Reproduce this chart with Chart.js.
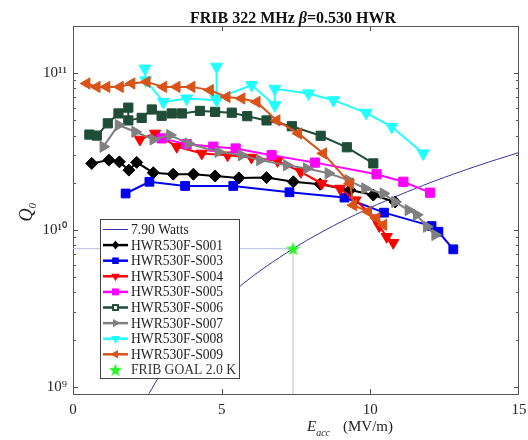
<!DOCTYPE html>
<html><head><meta charset="utf-8">
<script src="https://cdn.jsdelivr.net/npm/chart.js@4.4.1/dist/chart.umd.min.js"></script>
<style>html,body{margin:0;padding:0;background:#fff;overflow:hidden}#wrap{width:528px;height:440px;position:relative}</style>
</head><body><div id="wrap"><canvas id="c" width="528" height="440"></canvas></div>
<script>
// ---------- data ----------
const xTicks = [0, 5, 10, 15];
const yDecades = [1e9, 1e10, 1e11];
const yDecadeLabels = ['10\u2079', '10\u00b9\u2070', '10\u00b9\u00b9'];
const yMantissas = [1, 2, 3, 4, 5, 6, 7, 8, 9];

const seriesNames = ['HWR530F-S001','HWR530F-S003','HWR530F-S004','HWR530F-S005','HWR530F-S006','HWR530F-S007','HWR530F-S008','HWR530F-S009'];
const wattsLabel = '7.90 Watts';
const goalLabel = 'FRIB GOAL 2.0 K';

const s001E = [0.63,1.21,1.56,1.88,2.14,2.70,3.37,4.05,4.78,5.58,6.51,7.41,8.31,9.32,10.1,10.83];
const s001Q = [2.66e10,2.79e10,2.72e10,2.41e10,2.70e10,2.32e10,2.27e10,2.27e10,2.21e10,2.15e10,2.16e10,2.03e10,1.96e10,1.80e10,1.67e10,1.51e10];
const s003E = [1.77,2.57,3.77,5.39,7.28,9.13,10.46,12.06,12.29,12.79];
const s003Q = [1.71e10,2.03e10,1.91e10,1.91e10,1.74e10,1.61e10,1.29e10,1.06e10,9.75e9,7.53e9];
const s004E = [2.25,2.76,3.49,4.33,5.2,6.0,6.88,7.66,8.36,8.98,9.5,10.16,10.3,10.55,10.77];
const s004Q = [3.78e10,4.13e10,3.40e10,3.08e10,3.0e10,2.9e10,2.76e10,2.35e10,1.98e10,1.84e10,1.55e10,1.19e10,1.06e10,9.06e9,8.3e9];
const s005E = [2.98,3.82,4.72,5.47,6.68,8.14,10.21,11.11,12.01];
const s005Q = [3.84e10,3.53e10,3.40e10,3.31e10,3.0e10,2.69e10,2.27e10,2.03e10,1.73e10];
const s006E = [0.55,0.80,1.17,1.53,1.86,1.86,2.31,2.65,2.98,3.32,3.66,4.27,4.78,5.34,5.86,6.51,7.36,8.33,9.21,10.1];
const s006Q = [4.06e10,4.0e10,4.79e10,5.54e10,6.03e10,5.0e10,5.19e10,5.87e10,5.35e10,5.54e10,5.54e10,5.75e10,5.67e10,5.6e10,5.32e10,5.0e10,4.59e10,3.99e10,3.37e10,2.66e10];
const s007E = [1.02,1.53,2.09,2.70,3.26,3.88,4.89,5.67,6.29,7.19,7.86,8.59,9.26,9.82,10.44,10.83,11.28,11.56,11.9,12.18];
const s007Q = [3.40e10,4.67e10,4.23e10,3.78e10,4.03e10,3.56e10,3.15e10,3.0e10,2.79e10,2.59e10,2.47e10,2.30e10,2.08e10,1.84e10,1.71e10,1.51e10,1.34e10,1.25e10,1.05e10,9.3e9];
const s008E = [2.42,2.45,3.04,3.82,4.83,4.83,4.83,6.01,6.79,6.79,7.92,8.76,9.86,10.72,11.78];
const s008Q = [1.07e11,9.0e10,6.56e10,6.9e10,6.73e10,1.1e11,6.9e10,8.4e10,6.25e10,7.95e10,7.43e10,6.73e10,5.59e10,4.55e10,3.08e10];
const s009E = [0.46,0.80,1.13,1.58,1.97,2.48,3.04,3.49,3.99,4.61,5.17,5.67,6.18,6.85,7.58,8.42,9.32,9.43,9.93,10.21,10.44];
const s009Q = [8.6e10,8.18e10,8.18e10,8.18e10,8.6e10,8.8e10,8.18e10,8.18e10,8.18e10,7.8e10,7.06e10,6.9e10,6.56e10,5.0e10,4.13e10,3.08e10,1.98e10,1.44e10,1.31e10,1.19e10,1.08e10];

const wattsE = [2.55,3,3.5,4,4.5,5,5.5,6,6.5,7.4,8,9,10,11,12,13,14,15];
const wattsQ = [9.03e8,1.25e9,1.70e9,2.22e9,2.81e9,3.47e9,4.20e9,5.0e9,5.86e9,7.6e9,8.88e9,1.124e10,1.388e10,1.679e10,2.0e10,2.345e10,2.72e10,3.12e10];

const goalE = [7.4];
const goalQ = [7.6e9];
const yMin = 9e8, yMax = 2e11;

// ---------- styles ----------
const seriesE = [s001E,s003E,s004E,s005E,s006E,s007E,s008E,s009E];
const seriesQ = [s001Q,s003Q,s004Q,s005Q,s006Q,s007Q,s008Q,s009Q];
const styles = [
  {color:'#000000', shape:'rectRot', rot:0, r:6},
  {color:'#0000ee', shape:'rect', rot:0, r:6.2},
  {color:'#ff0000', shape:'triangle', rot:180, r:6.5},
  {color:'#ff00ff', shape:'rect', rot:0, r:6.5},
  {color:'#1f4d37', shape:'rect', rot:0, r:6.5},
  {color:'#808080', shape:'triangle', rot:90, r:6.5},
  {color:'#22ffff', shape:'triangle', rot:180, r:7},
  {color:'#d95319', shape:'triangle', rot:270, r:6.5}
];
const wattsColor = '#3535a5';
const goalColor = '#2cf52c';
const serif = '"Liberation Serif","Times New Roman",serif';

function starCanvas(R) {
  const c = document.createElement('canvas');
  const s = Math.ceil(R*2+2); c.width = s; c.height = s;
  const g = c.getContext('2d');
  g.translate(s/2, s/2+0.5);
  g.beginPath();
  for (let i = 0; i < 10; i++) {
    const rr = i % 2 ? R*0.42 : R;
    const a = -Math.PI/2 + i*Math.PI/5;
    g.lineTo(Math.cos(a)*rr, Math.sin(a)*rr);
  }
  g.closePath(); g.fillStyle = goalColor; g.fill();
  return c;
}
const starBig = starCanvas(7.5);

function drawMarker(ctx, st, x, y, r) {
  ctx.save(); ctx.translate(x, y); ctx.rotate(st.rot*Math.PI/180);
  ctx.beginPath();
  if (st.shape === 'rect') { const h = r*0.707; ctx.rect(-h,-h,2*h,2*h); }
  else if (st.shape === 'rectRot') { ctx.moveTo(0,-r); ctx.lineTo(r*0.8,0); ctx.lineTo(0,r); ctx.lineTo(-r*0.8,0); ctx.closePath(); }
  else { for (let i=0;i<3;i++){ const a=i*2*Math.PI/3; ctx.lineTo(Math.sin(a)*r, -Math.cos(a)*r);} ctx.closePath(); }
  ctx.fillStyle = st.color; ctx.fill();
  ctx.restore();
}

// ---------- datasets ----------
const datasets = [];
seriesE.forEach((E, k) => {
  const st = styles[k];
  datasets.push({
    label: seriesNames[k],
    data: E.map((e, i) => ({x: e, y: seriesQ[k][i]})),
    showLine: true, borderColor: st.color, backgroundColor: st.color, borderWidth: 2,
    pointStyle: st.shape, pointRotation: st.rot, pointRadius: st.r,
    pointBorderWidth: 1, pointBorderColor: st.color, pointBackgroundColor: st.color,
    order: 20 - k
  });
});
datasets.push({
  label: wattsLabel, data: wattsE.map((e,i)=>({x:e,y:wattsQ[i]})),
  showLine: true, borderColor: wattsColor, borderWidth: 1, pointRadius: 0, tension: 0.3, order: 40
});
datasets.push({
  label: 'h', data: [{x:0,y:goalQ[0]},{x:goalE[0],y:goalQ[0]}],
  showLine: true, borderColor: '#b4bddc', borderWidth: 1, pointRadius: 0, order: 41
});
datasets.push({
  label: 'v', data: [{x:goalE[0],y:goalQ[0]},{x:goalE[0],y:yMin}],
  showLine: true, borderColor: '#d8d8d8', borderWidth: 1, pointRadius: 0, order: 42
});
datasets.push({
  label: goalLabel, data: [{x:goalE[0], y:goalQ[0]}],
  showLine: false, pointStyle: starBig, pointRadius: 8, order: 1
});

// ---------- plugins ----------
const framePlugin = {
  id: 'frame',
  beforeDatasetsDraw(chart) {
    const ctx = chart.ctx, a = chart.chartArea;
    const xs = chart.scales.x, ys = chart.scales.y;
    ctx.save();
    ctx.strokeStyle = '#555'; ctx.lineWidth = 1;
    ctx.strokeRect(Math.round(a.left)+0.5, Math.round(a.top)+0.5, Math.round(a.right-a.left)-1, Math.round(a.bottom-a.top));
    ctx.beginPath();
    xTicks.forEach(v => {
      const px = Math.round(xs.getPixelForValue(v)) + 0.5;
      if (px <= a.left+1 || px >= a.right-1) return;
      ctx.moveTo(px, a.bottom); ctx.lineTo(px, a.bottom-5);
      ctx.moveTo(px, a.top); ctx.lineTo(px, a.top+5);
    });
    yDecades.forEach(d => yMantissas.forEach(m => {
      const v = d*m; if (v < yMin || v > yMax) return;
      const py = Math.round(ys.getPixelForValue(v)) + 0.5;
      const len = m === 1 ? 5 : 3;
      ctx.moveTo(a.left, py); ctx.lineTo(a.left+len, py);
      ctx.moveTo(a.right, py); ctx.lineTo(a.right-len, py);
    }));
    ctx.stroke();
    ctx.restore();
  },
  afterDraw(chart) {
    const ctx = chart.ctx;
    ctx.save();
    // title
    ctx.fillStyle = '#111'; ctx.textBaseline = 'alphabetic';
    const p1 = 'FRIB 322 MHz ', p2 = '\u03b2', p3 = '=0.530 HWR';
    const fB = 'bold 16px ' + serif, fI = 'italic bold 16px ' + serif;
    ctx.font = fB; const w1 = ctx.measureText(p1).width, w3 = ctx.measureText(p3).width;
    ctx.font = fI; const w2 = ctx.measureText(p2).width;
    let x0 = 293 - (w1+w2+w3)/2;
    ctx.font = fB; ctx.fillText(p1, x0, 23);
    ctx.font = fI; ctx.fillText(p2, x0+w1, 23);
    ctx.font = fB; ctx.fillText(p3, x0+w1+w2, 23);
    // y title
    ctx.save(); ctx.translate(27, 215); ctx.rotate(-Math.PI/2);
    ctx.fillStyle = '#222';
    ctx.font = 'italic 18px ' + serif; ctx.textAlign = 'center';
    const wq = ctx.measureText('Q').width;
    ctx.fillText('Q', 0, 5);
    ctx.font = 'italic 11px ' + serif; ctx.textAlign = 'left';
    ctx.fillText('0', wq/2, 9);
    ctx.restore();
    // x title
    ctx.fillStyle = '#222';
    ctx.font = 'italic 15px ' + serif; ctx.fillText('E', 307, 431);
    const we = ctx.measureText('E').width;
    ctx.font = 'italic 10px ' + serif; ctx.fillText('acc', 307+we, 436);
    ctx.font = '15px ' + serif; ctx.fillText('(MV/m)', 343, 431);
    // legend
    const L = 100, T = 219, R = 239, B = 378;
    ctx.fillStyle = '#fff'; ctx.fillRect(L, T, R-L, B-T);
    ctx.strokeStyle = '#444'; ctx.lineWidth = 1; ctx.strokeRect(L+0.5, T+0.5, R-L, B-T);
    const rowH = 15.6, y0 = 229.5, lx0 = 103, lx1 = 128, tx = 131;
    ctx.font = '13.6px ' + serif; ctx.textBaseline = 'middle'; ctx.textAlign = 'left';
    ctx.strokeStyle = wattsColor; ctx.lineWidth = 1;
    ctx.beginPath(); ctx.moveTo(lx0, y0); ctx.lineTo(lx1, y0); ctx.stroke();
    ctx.fillStyle = '#222'; ctx.fillText(wattsLabel, tx, y0+1);
    styles.forEach((st, k) => {
      const y = y0 + rowH*(k+1);
      ctx.strokeStyle = st.color; ctx.lineWidth = 2.5;
      ctx.beginPath(); ctx.moveTo(lx0, y); ctx.lineTo(lx1, y); ctx.stroke();
      drawMarker(ctx, st, (lx0+lx1)/2, y, st.r*0.75);
      if (k === 4) { ctx.fillStyle = '#fff'; ctx.fillRect((lx0+lx1)/2-1.5, y-1.5, 3, 3); }
      ctx.fillStyle = '#222'; ctx.fillText(seriesNames[k], tx, y+1);
    });
    const ys = y0 + rowH*9;
    ctx.drawImage(starCanvas(7), (lx0+lx1)/2-8, ys-8);
    ctx.fillStyle = '#333'; ctx.fillText(goalLabel, tx, ys+1);
    ctx.restore();
  }
};

new Chart(document.getElementById('c'), {
  type: 'scatter',
  data: { datasets },
  options: {
    responsive: false, animation: false, devicePixelRatio: 1,
    layout: { autoPadding: false, padding: { top: 26, right: 9, left: 0, bottom: 0 } },
    plugins: { legend: { display: false }, tooltip: { enabled: false }, title: { display: false } },
    scales: {
      x: {
        type: 'linear', min: 0, max: 15,
        afterBuildTicks: s => { s.ticks = xTicks.map(v => ({value: v})); },
        afterFit: s => { s.height = 46; s.paddingLeft = 0; s.paddingRight = 0; },
        ticks: { autoSkip: false, maxRotation: 0, padding: 7, color: '#262626', font: { family: serif, size: 15 } },
        grid: { display: false, drawTicks: false }, border: { display: false }
      },
      y: {
        type: 'logarithmic', min: yMin, max: yMax,
        afterBuildTicks: s => {
          const t = [];
          yDecades.forEach(d => yMantissas.forEach(m => { const v = d*m; if (v >= yMin && v <= yMax) t.push({value: v, major: m === 1}); }));
          s.ticks = t;
        },
        afterFit: s => { s.width = 73; s.paddingTop = 0; s.paddingBottom = 0; },
        ticks: {
          autoSkip: false, padding: 6, color: '#262626', font: { family: serif, size: 15 },
          callback: v => { const i = yDecades.indexOf(v); return i >= 0 ? yDecadeLabels[i] : ''; }
        },
        grid: { display: false, drawTicks: false }, border: { display: false }
      }
    }
  },
  plugins: [framePlugin]
});
</script>
</body></html>
